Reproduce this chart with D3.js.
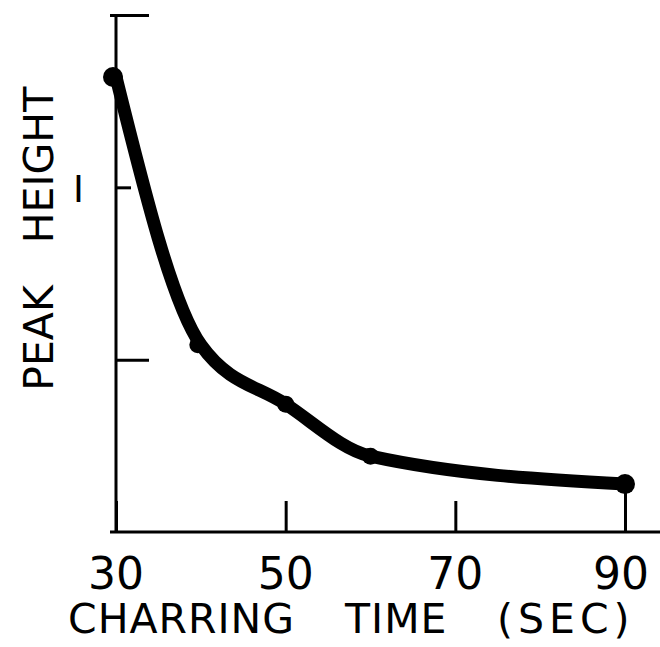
<!DOCTYPE html>
<html>
<head>
<meta charset="utf-8">
<script src="https://cdn.jsdelivr.net/npm/d3@7"></script>
<style>
  body { margin: 0; background: #fff; }
  text { font-family: "DejaVu Sans", sans-serif; fill: #000; }
</style>
</head>
<body>
<div class="chart"></div>
<script>
// charring time (sec) vs peak height
const times = [30, 40, 50, 60, 90];
const peakHeight = [1.32, 0.543, 0.371, 0.22, 0.139];
const xTicks = [30, 50, 70, 90];
const yTicks = [0.5, 1, 1.5];
const yTickLabels = ["", "I", ""];

function init(){
    createChart(".chart");
}

function createChart(id){
    const width = 660, height = 647;

    const svg = d3.select(id)
        .append("svg")
        .attr("width", width)
        .attr("height", height);

    const x = d3.scaleLinear().domain([30, 90]).range([116, 625]);
    const y = d3.scaleLinear().domain([0, 1.5]).range([532, 15]);

    const data = times.map((t, i) => ({t: t, v: peakHeight[i]}));

    // x axis, ticks pointing up into the plot
    const xAxis = svg.append("g")
        .attr("transform", `translate(0, ${y(0)})`)
        .call(d3.axisBottom(x).tickValues(xTicks).tickSize(-31).tickFormat(""));
    xAxis.select(".domain").remove();
    xAxis.selectAll(".tick line")
        .attr("stroke", "#000")
        .attr("stroke-width", 3)
        .attr("y2", d => d === 90 ? -(y(0) - y(peakHeight[peakHeight.length - 1])) : -31);
    svg.append("line")
        .attr("x1", x(30) - 6).attr("x2", width)
        .attr("y1", y(0)).attr("y2", y(0))
        .attr("stroke", "#000").attr("stroke-width", 3);

    // x tick labels
    svg.selectAll(".xlab")
        .data(xTicks)
        .join("text")
        .attr("class", "xlab")
        .attr("x", d => x(d) - (d === 90 ? 4 : 0))
        .attr("y", 589)
        .attr("text-anchor", "middle")
        .style("font-size", "44px")
        .text(d => d);

    // y axis, ticks pointing right
    const yAxis = svg.append("g")
        .attr("transform", `translate(${x(30)}, 0)`)
        .call(d3.axisLeft(y).tickValues(yTicks).tickSize(-33).tickFormat(""));
    yAxis.select(".domain").remove();
    yAxis.selectAll(".tick line")
        .attr("stroke", "#000")
        .attr("stroke-width", 3)
        .attr("x1", d => d === 1.5 ? -6 : 0)
        .attr("x2", d => d === 1 ? 15 : 33);
    svg.append("line")
        .attr("x1", x(30)).attr("x2", x(30))
        .attr("y1", y(1.5) - 1).attr("y2", y(0) + 1)
        .attr("stroke", "#000").attr("stroke-width", 3);

    svg.selectAll(".ylab")
        .data(yTicks)
        .join("text")
        .attr("class", "ylab")
        .attr("x", 73)
        .attr("y", d => y(d) + 15)
        .style("font-size", "37px")
        .text((d, i) => yTickLabels[i]);

    // curve through the points
    const line = d3.line()
        .x(d => x(d.t))
        .y(d => y(d.v))
        .curve(d3.curveMonotoneX);
    svg.append("path")
        .datum(data)
        .attr("d", line)
        .attr("fill", "none")
        .attr("stroke", "#000")
        .attr("stroke-width", 13)
        .attr("stroke-linecap", "round")
        .attr("stroke-linejoin", "round");

    svg.selectAll(".dot")
        .data(data)
        .join("circle")
        .attr("class", "dot")
        .attr("cx", d => x(d.t) - (d.t === 40 || d.t === 30 ? 3 : 0))
        .attr("cy", d => y(d.v))
        .attr("r", d => (d.t === 30 || d.t === 90) ? 10 : 8.5)
        .attr("fill", "#000");

    // axis titles
    const xt = [["CHARRING", 68], ["TIME", 345], ["(SEC)", 497]];
    svg.selectAll(".xtitle")
        .data(xt)
        .join("text")
        .attr("class", "xtitle")
        .attr("x", d => d[1])
        .attr("y", 633)
        .style("font-size", "41px")
        .style("letter-spacing", d => d[0] === "(SEC)" ? "5px" : "1px")
        .text(d => d[0]);

    const yt = [["PEAK", 338], ["HEIGHT", 165]];
    svg.selectAll(".ytitle")
        .data(yt)
        .join("text")
        .attr("class", "ytitle")
        .attr("transform", d => `translate(53, ${d[1]}) rotate(-90)`)
        .attr("text-anchor", "middle")
        .style("font-size", "41px")
        .text(d => d[0]);
}

init();
</script>
</body>
</html>
